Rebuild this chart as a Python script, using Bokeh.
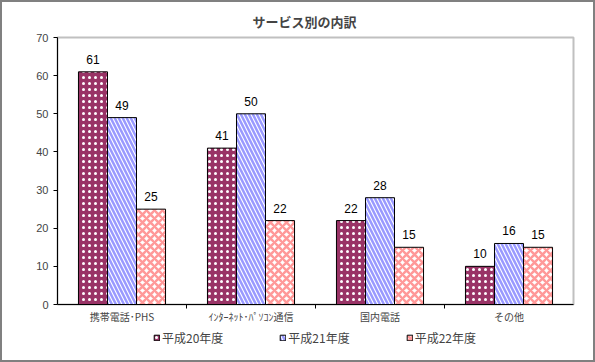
from bokeh.plotting import figure
from bokeh.layouts import column
from bokeh.models import ColumnDataSource, FixedTicker, Range1d, Legend, LegendItem
from bokeh.transform import dodge
from bokeh.core.properties import value
from bokeh.embed import file_html
from bokeh.resources import INLINE

categories = ["携帯電話･PHS", "ｲﾝﾀｰﾈｯﾄ･ﾊﾟｿｺﾝ通信", "国内電話", "その他"]
series_names = ["平成20年度", "平成21年度", "平成22年度"]
h20 = [61, 41, 22, 10]
h21 = [49, 50, 28, 16]
h22 = [25, 22, 15, 15]
y_ticks = [0, 10, 20, 30, 40, 50, 60, 70]

JP = "Noto Sans CJK JP"
NUM = "Liberation Sans"

xc = [i + 0.5 for i in range(len(categories))]
src = ColumnDataSource(dict(x=xc, h20=h20, h21=h21, h22=h22,
                            l20=[str(v) for v in h20], l21=[str(v) for v in h21], l22=[str(v) for v in h22]))

styles = [
    dict(fill_color="#993366", hatch_pattern=".", hatch_color="white", hatch_scale=6, hatch_weight=0.5),
    dict(fill_color="white", hatch_pattern="\\", hatch_color="#9999FF", hatch_scale=8, hatch_weight=2.5),
    dict(fill_color="white", hatch_pattern="x", hatch_color="#FF9999", hatch_scale=8, hatch_weight=2.5),
]

p = figure(output_backend="svg", toolbar_location=None,
           width=591, height=324,
           x_range=Range1d(0, len(categories)), y_range=Range1d(0, 70),
           min_border_left=55, min_border_top=35, min_border_right=20, min_border_bottom=21,
           title="サービス別の内訳")
p.background_fill_color = "white"
p.border_fill_color = "white"
p.outline_line_color = "#c0c0c0"
p.outline_line_width = 2
p.grid.visible = False

p.title.align = "left"
p.title.offset = 195
p.title.standoff = 13
p.title.text_font = JP
p.title.text_font_size = "13px"
p.title.text_font_style = "bold"

yax = p.yaxis[0]
yax.ticker = FixedTicker(ticks=y_ticks)
yax.major_tick_in = 0
yax.major_tick_out = 4
yax.minor_tick_line_color = None
yax.major_label_text_font = NUM
yax.major_label_text_font_size = "11px"
yax.axis_line_color = "black"
yax.major_label_standoff = 5

xax = p.xaxis[0]
xax.ticker = FixedTicker(ticks=xc, minor_ticks=[1, 2, 3])
xax.major_label_overrides = {x: c for x, c in zip(xc, categories)}
xax.major_tick_in = 0
xax.major_tick_out = 0
xax.minor_tick_in = 0
xax.minor_tick_out = 4
xax.minor_tick_line_color = "black"
xax.major_label_text_font = JP
xax.major_label_text_font_size = "10px"
xax.major_label_standoff = 0
xax.axis_line_color = "black"

w = 0.225
cols = ["h20", "h21", "h22"]
labs = ["l20", "l21", "l22"]
offs = [-w, 0, w]
for off, col, lab, st in zip(offs, cols, labs, styles):
    p.vbar(x=dodge("x", off, range=p.x_range), top=col, width=w, source=src,
           line_color="black", line_width=1, **st)
    p.text(x=dodge("x", off, range=p.x_range), y=col, text=lab, source=src,
           text_align="center", text_baseline="bottom", y_offset=-8,
           text_font=value(NUM), text_font_size="12px", text_color="#000000")

# legend strip (proxy renderers lie outside the visible range)
lf = figure(output_backend="svg", toolbar_location=None, width=591, height=34,
            x_range=Range1d(0, 1), y_range=Range1d(0, 1),
            x_axis_type=None, y_axis_type=None,
            min_border_left=0, min_border_right=0, min_border_top=0, min_border_bottom=0)
lf.outline_line_color = None
lf.grid.visible = False
lf.background_fill_color = "white"
lf.border_fill_color = "white"
proxy = ColumnDataSource(dict(x=[0.5], top=[-1], bottom=[-2]))
items = []
for name, st in zip(series_names, styles):
    r = lf.vbar(x="x", top="top", bottom="bottom", width=0.1, source=proxy,
                line_color="black", line_width=1, **st)
    items.append(LegendItem(label=name, renderers=[r]))
legend = Legend(items=items, orientation="horizontal", location=(96, 14),
                glyph_width=7, glyph_height=7, label_standoff=2, spacing=56,
                label_text_font=JP, label_text_font_size="12px",
                border_line_color=None, background_fill_alpha=0,
                padding=0, margin=0)
lf.add_layout(legend)

layout = column(p, lf, spacing=0)
layout.styles = {"border": "2px solid #808080"}

open("out.html", "w").write(file_html(layout, INLINE))
